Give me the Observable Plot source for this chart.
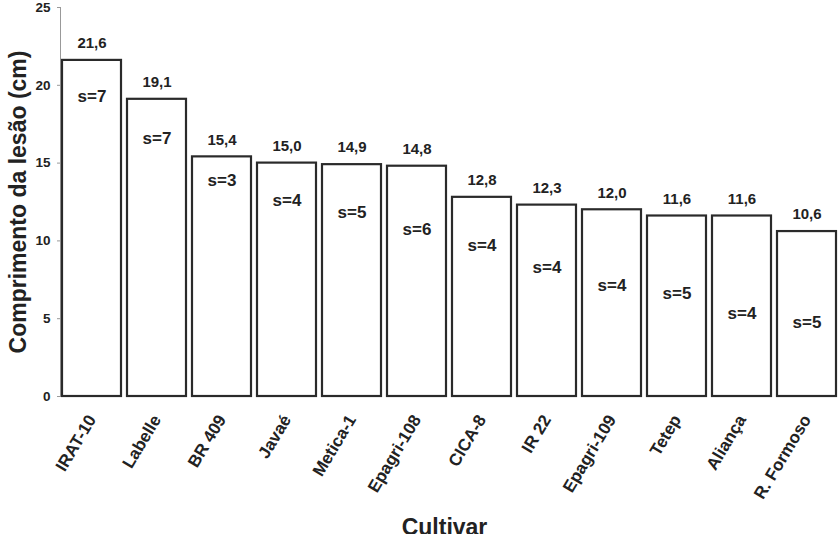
<!DOCTYPE html>
<html>
<head>
<meta charset="utf-8">
<script src="https://cdn.jsdelivr.net/npm/d3@7"></script>
<script src="https://cdn.jsdelivr.net/npm/@observablehq/plot@0.6"></script>
<style>
  body { margin: 0; background: #fff; }
  svg { font-family: "Liberation Sans", Arial, sans-serif; }
</style>
</head>
<body>
<div id="chart"></div>
<script>
const cultivars = ["IRAT-10", "Labelle", "BR 409", "Javaé", "Metica-1", "Epagri-108", "CICA-8", "IR 22", "Epagri-109", "Tetep", "Aliança", "R. Formoso"];
const lengths = [21.6, 19.1, 15.4, 15.0, 14.9, 14.8, 12.8, 12.3, 12.0, 11.6, 11.6, 10.6];
const sValues = [7, 7, 3, 4, 5, 6, 4, 4, 4, 5, 4, 5];
const sLabelAt = [19.3, 16.6, 13.9, 12.6, 11.8, 10.7, 9.7, 8.3, 7.1, 6.6, 5.3, 4.75];
const yTicks = [0, 5, 10, 15, 20, 25];

const data = cultivars.map((c, i) => ({cultivar: c, value: lengths[i], s: sValues[i], sy: sLabelAt[i]}));
const fmt = v => v.toFixed(1).replace(".", ",");

const chart = Plot.plot({
  width: 840,
  height: 534,
  marginLeft: 60,
  marginRight: 2,
  marginTop: 7,
  marginBottom: 138,
  style: {fontFamily: "'Liberation Sans', Arial, sans-serif", background: "#fff", color: "#222"},
  x: {domain: cultivars, paddingInner: 0.09, paddingOuter: 0, label: null},
  y: {domain: [0, 25], label: null},
  marks: [
    Plot.frame({anchor: "left", stroke: "#999", strokeWidth: 1}),
    Plot.barY(data, {x: "cultivar", y: "value", fill: "#fff", stroke: "#2a2a2a", strokeWidth: 2.2}),
    Plot.text(data, {x: "cultivar", y: "value", text: d => fmt(d.value), dy: -17, fontSize: 15, fontWeight: "bold", fill: "#222"}),
    Plot.text(data, {x: "cultivar", y: "sy", text: d => "s=" + d.s, fontSize: 17, fontWeight: "bold", fill: "#222"}),
    Plot.axisY({ticks: yTicks, tickSize: 3, tickPadding: 7, fontSize: 13.5, fontWeight: "bold", stroke: "#999", label: null}),
    Plot.axisX({tickRotate: -59, tickSize: 0, tickPadding: 20, fontSize: 17, fontWeight: "bold", label: null}),
    Plot.text(["Comprimento da lesão (cm)"], {frameAnchor: "left", dx: -42, rotate: -90, textAnchor: "middle", lineAnchor: "middle", fontSize: 23, fontWeight: "bold", fill: "#222"}),
    Plot.text(["Cultivar"], {frameAnchor: "bottom", dx: -5, dy: 131, lineAnchor: "middle", fontSize: 23, fontWeight: "bold", fill: "#222"})
  ]
});
document.getElementById("chart").appendChild(chart);
</script>
</body>
</html>
